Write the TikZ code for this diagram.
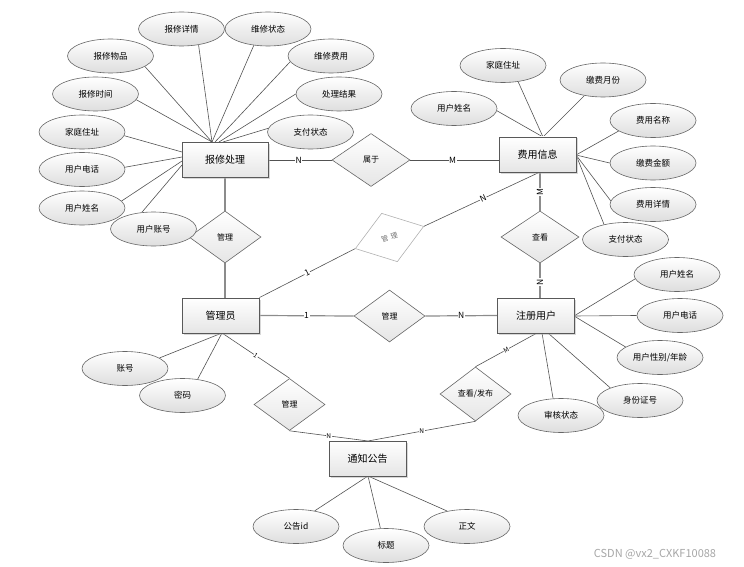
\documentclass[tikz,border=0pt]{standalone}
\usepackage{fontspec}
\setmainfont{Noto Sans CJK SC}
\usetikzlibrary{shapes.geometric,shadows}
\pgfdeclarelayer{background}
\pgfsetlayers{background,main}
\begin{document}
\begin{tikzpicture}[x=1pt,y=-1pt,
 attr/.style={ellipse,draw=black!60,line width=0.6pt,top color=white,bottom color=black!13,minimum width=86pt,minimum height=34pt,inner sep=0pt,font=\fontsize{8.5}{10}\selectfont},
 ent/.style={rectangle,draw=black!65,line width=0.9pt,top color=white,bottom color=black!10,minimum width=77pt,minimum height=35pt,inner sep=0pt,font=\fontsize{10}{12}\selectfont,drop shadow={shadow xshift=1.5pt,shadow yshift=-1.5pt,fill=black!30}},
 rel/.style={diamond,draw=black!60,line width=0.6pt,top color=white,bottom color=black!10,minimum width=72pt,minimum height=52pt,inner sep=0pt,font=\fontsize{8}{10}\selectfont},
 greyrel/.style={diamond,draw=black!30,fill=white,line width=0.6pt,minimum width=72pt,minimum height=51pt,inner sep=0pt,text=black!55,font=\fontsize{7}{9}\selectfont},
 ln/.style={draw=black!68,line width=0.6pt},
 lnb/.style={draw=black!45,line width=1.2pt},
 card/.style={fill=white,inner sep=0.6pt,font=\fontsize{8.5}{10}\selectfont},
 cardsm/.style={fill=white,inner sep=0.4pt,font=\fontsize{6.5}{8}\selectfont},
]
\useasboundingbox (0,0) rectangle (744,567);

% entities
\node[ent,minimum width=86pt] (bx) at (225,160) {报修处理};
\node[ent] (fy) at (537.5,154.5) {费用信息};
\node[ent] (gly) at (220.5,315.5) {管理员};
\node[ent] (zc) at (536,315.5) {注册用户};
\node[ent] (tz) at (367.5,458.5) {通知公告};

% relations
\node[rel,minimum width=78pt,minimum height=53pt] (sy) at (371,160) {属于};
\node[rel] (gl1) at (225,237) {管理};
\node[rel,minimum width=78pt] (ck) at (540,237) {查看};
\node[rel,minimum width=71pt] (gl2) at (389.5,316) {管理};
\node[rel,minimum width=71pt] (gl3) at (289.5,404.5) {管理};
\node[rel,minimum width=71pt,minimum height=54pt] (fb) at (475.5,394) {查看/发布};
\node[greyrel,rotate=18] (gd) at (389.5,237.5) {管\hspace{2.8pt}理};

% attributes of 报修处理
\node[attr] (a1) at (181.5,29) {报修详情};
\node[attr] (a2) at (268,29) {维修状态};
\node[attr] (a3) at (110.5,56) {报修物品};
\node[attr] (a4) at (331,56) {维修费用};
\node[attr] (a5) at (95.5,94) {报修时间};
\node[attr] (a6) at (339,94) {处理结果};
\node[attr] (a7) at (82,132) {家庭住址};
\node[attr] (a8) at (310.5,132) {支付状态};
\node[attr] (a9) at (82,169.5) {用户电话};
\node[attr] (a10) at (82,208) {用户姓名};
\node[attr] (a11) at (153.5,229) {用户账号};

% attributes of 费用信息
\node[attr] (b1) at (503,65.5) {家庭住址};
\node[attr] (b2) at (603,80) {缴费月份};
\node[attr] (b3) at (454,108.5) {用户姓名};
\node[attr] (b4) at (653,120.5) {费用名称};
\node[attr] (b5) at (653,163) {缴费金额};
\node[attr] (b6) at (653,204.5) {费用详情};
\node[attr] (b7) at (625.5,239.5) {支付状态};

% attributes of 注册用户
\node[attr] (c1) at (677,274.5) {用户姓名};
\node[attr] (c2) at (680,315.5) {用户电话};
\node[attr] (c3) at (660,357.5) {用户性别/年龄};
\node[attr] (c5) at (561,415.5) {审核状态};
\node[attr] (c4) at (640,400.5) {身份证号};

% attributes of 管理员
\node[attr] (d1) at (125,368.5) {账号};
\node[attr] (d2) at (182.5,395.5) {密码};

% attributes of 通知公告
\node[attr] (e1) at (296,526.5) {公告id};
\node[attr] (e2) at (386,545.5) {标题};
\node[attr] (e3) at (467,526.5) {正文};

% convergence points
\coordinate (bxt1) at (212,142);
\coordinate (bxt2) at (215,142);
\coordinate (bxt3) at (219,142);
\coordinate (bxt4) at (223,142);
\coordinate (bxl1) at (182,152);
\coordinate (bxl2) at (182,157);
\coordinate (bxl3) at (182,161);
\coordinate (bxl4) at (182,165);
\coordinate (fyt) at (543,137);
\coordinate (fyr) at (576,155);
\coordinate (fyb) at (540,172);
\coordinate (zcr) at (574,316);
\coordinate (zcb1) at (537,333);
\coordinate (zcb2) at (542,333);
\coordinate (zcb3) at (548,333);
\coordinate (glb) at (222,333);
\coordinate (tzt) at (368,441);
\coordinate (tzb) at (368,476);

\node[text=black!35,font=\fontsize{11}{13}\selectfont] (wm) at (655,554) {CSDN @vx2\_CXKF10088};

\begin{pgfonlayer}{background}
% 报修处理
\draw[ln] (a3.-17) -- (bxt1);
\draw[ln] (a1.-43) -- (bxt1);
\draw[ln] (a2.-131) -- (bxt1);
\draw[ln] (a4.-172) -- (bxt2);
\draw[ln] (a6.180) -- (bxt3);
\draw[ln] (a8.175) -- (bxt4);
\draw[ln] (a5.-8) -- (bxt1);
\draw[ln] (a7.-5) -- (bxl1);
\draw[ln] (a9.3) -- (bxl2);
\draw[ln] (a10.10) -- (bxl3);
\draw[ln] (a11.125) -- (bxl4);
% 费用信息
\draw[ln] (b3.-3) -- (fyt);
\draw[ln] (b1.-47) -- (fyt);
\draw[ln] (b2.-140) -- (fyt);
\draw[ln] (b4.-163) -- (fyr);
\draw[ln] (b5.180) -- (fyr);
\draw[ln] (b6.175) -- (fyr);
\draw[ln] (b7.145) -- (fyr);
% 注册用户
\draw[ln] (c1.-174) -- (zcr);
\draw[ln] (c2.180) -- (zcr);
\draw[ln] (c3.163) -- (zcr);
\draw[ln] (c4.157) -- (zcb3);
\draw[ln] (c5.115) -- (zcb2);
% 管理员
\draw[ln] (d1.17) -- (glb);
\draw[ln] (d2.47) -- (glb);
% 通知公告
\draw[ln] (e1.40) -- (tzb);
\draw[ln] (e2.108) -- (tzb);
\draw[ln] (e3.142) -- (tzb);

% relationship connectors
\draw[ln] (bx.east) -- node[card,pos=0.48] {N} (sy.west);
\draw[ln] (sy.east) -- node[card,pos=0.48] {M} (sy.east -| fy.west);
\draw[lnb] (bx.south) -- (gl1.north);
\draw[lnb] (gl1.south) -- (gl1.south |- gly.north);
\draw[lnb] (fyb) -- node[card,pos=0.52,rotate=90] {M} (ck.north);
\draw[lnb] (ck.south) -- node[card,pos=0.55,rotate=90] {N} (ck.south |- zc.north);
\draw[ln] (fyb) -- node[card,pos=0.49,sloped] {N} (gd.east);
\draw[ln] (gly.north east) -- node[card,pos=0.5,sloped] {1} (gd.west);
\draw[lnb] (gly.east) -- node[card,pos=0.5] {1} (gl2.west);
\draw[lnb] (gl2.east) -- node[card,pos=0.5] {N} (zc.west);
\draw[ln] (glb) -- node[cardsm,pos=0.5,sloped] {1} (gl3.north);
\draw[ln] (gl3.south) -- node[cardsm,pos=0.5] {N} (tzt);
\draw[ln] (fb.south) -- node[cardsm,pos=0.5] {N} (tzt);
\draw[ln] (zcb1) -- node[cardsm,pos=0.5,sloped] {M} (fb.north);
\end{pgfonlayer}
\end{tikzpicture}
\end{document}
